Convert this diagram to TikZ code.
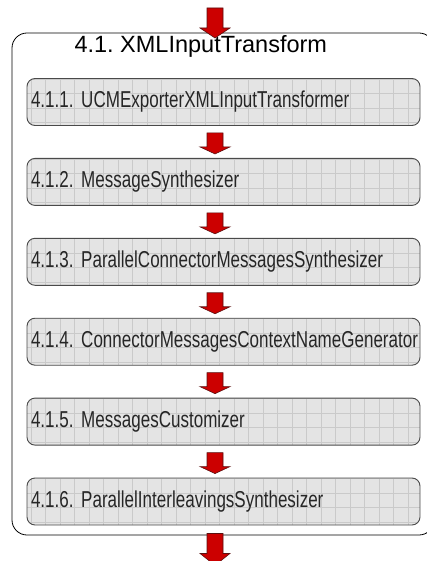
\documentclass[tikz,border=0pt]{standalone}
\usepackage{fontspec}
\setmainfont{Liberation Sans}
\newfontfamily\narrowsans{Liberation Sans}[FakeStretch=0.74]
\usetikzlibrary{positioning}
\definecolor{rojo}{HTML}{CC0000}
\definecolor{bordeflecha}{HTML}{5A1010}
\definecolor{borde}{HTML}{4A4A4A}
\definecolor{relleno}{HTML}{E4E4E4}
\definecolor{rejilla}{HTML}{CACACA}
\frenchspacing

\begin{document}
\begin{tikzpicture}[x=1pt,y=1pt,node distance=32pt,
    etapa/.style={draw=black,line width=0.8pt,rounded corners=15pt,minimum width=422pt,minimum height=502pt,inner sep=0pt},
    filtro/.style={draw=borde,line width=0.9pt,fill=relleno,rounded corners=8pt,
      minimum height=47pt,text width=385pt,inner sep=4pt,align=left,
      font=\narrowsans\fontsize{23}{26}\selectfont,text=black!85,
      execute at begin node={\hyphenpenalty=10000 },
      path picture={\draw[rejilla,line width=0.5pt,step=14.5pt]
        (path picture bounding box.south west) grid (path picture bounding box.north east);}},
    flecha/.pic={\draw[bordeflecha,line width=0.6pt,fill=rojo,line join=miter]
      (-8,0) -- (8,0) -- (8,-\pgfkeysvalueof{/tikz/largo}) -- (15,-\pgfkeysvalueof{/tikz/largo})
      -- (0,-\pgfkeysvalueof{/tikz/largo}-\pgfkeysvalueof{/tikz/punta})
      -- (-15,-\pgfkeysvalueof{/tikz/largo}) -- (-8,-\pgfkeysvalueof{/tikz/largo}) -- cycle;},
    largo/.initial=14, punta/.initial=7]
  \useasboundingbox (0,0) rectangle (427,-561);
  % bloque exterior
  \node[etapa] (xmlit) at (223,-284) {};
  \node[anchor=base west,font=\fontsize{23.5}{28}\selectfont] (titulo) at (71,-53) {4.1. XMLInputTransform};
  % filtros
  \node[filtro] (ucm) at (223.5,-102) {4.1.1. UCMExporterXMLInputTransformer};
  \node[filtro,below=of ucm] (msg) {4.1.2. MessageSynthesizer};
  \node[filtro,below=of msg] (pcm) {4.1.3. ParallelConnectorMessagesSynthesizer};
  \node[filtro,below=of pcm] (cmc) {4.1.4. ConnectorMessagesContextNameGenerator};
  \node[filtro,below=of cmc] (cust) {4.1.5. MessagesCustomizer};
  \node[filtro,below=of cust] (pis) {4.1.6. ParallelInterleavingsSynthesizer};
  % flechas
  \coordinate (entrada) at (215,-8);
  \pic[largo=20,punta=10] at (entrada) {flecha};
  \pic at ([xshift=-8.5pt,yshift=-7pt]ucm.south) {flecha};
  \pic at ([xshift=-8.5pt,yshift=-7pt]msg.south) {flecha};
  \pic at ([xshift=-8.5pt,yshift=-7pt]pcm.south) {flecha};
  \pic at ([xshift=-8.5pt,yshift=-7pt]cmc.south) {flecha};
  \pic at ([xshift=-8.5pt,yshift=-7pt]cust.south) {flecha};
  \pic[largo=20,punta=12] at ([xshift=-8.5pt,yshift=-8pt]pis.south) {flecha};
\end{tikzpicture}
\end{document}
